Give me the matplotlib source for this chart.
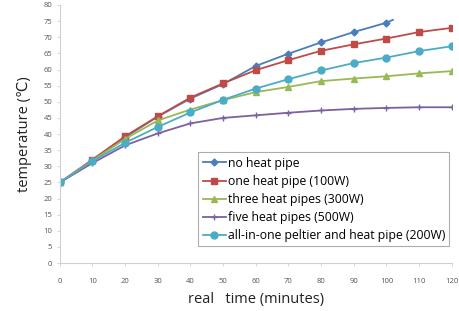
import numpy as np
import matplotlib
matplotlib.use('Agg')
import matplotlib.pyplot as plt

plt.rcParams['font.family'] = ['Open Sans', 'DejaVu Sans']

minutes = [0, 10, 20, 30, 40, 50, 60, 70, 80, 90, 100, 110, 120]
# no heat pipe stops a bit after 100 min
minutes_none = [0, 10, 20, 30, 40, 50, 60, 70, 80, 90, 100, 102]
no_pipe = [25, 31.6, 39.0, 45.4, 51.0, 55.5, 61.1, 64.9, 68.4, 71.6, 74.5, 75.4]
one_pipe = [25, 32.1, 39.3, 45.5, 51.3, 55.7, 59.8, 62.9, 65.8, 67.8, 69.6, 71.6, 72.9]
three_pipes = [25, 31.8, 38.5, 44.2, 47.6, 50.5, 53.0, 54.6, 56.4, 57.2, 57.9, 58.8, 59.5]
five_pipes = [25, 31.0, 36.5, 40.2, 43.3, 45.0, 45.8, 46.6, 47.3, 47.8, 48.1, 48.3, 48.3]
peltier = [25, 31.6, 37.3, 42.2, 46.7, 50.6, 54.1, 57.0, 59.7, 62.0, 63.7, 65.7, 67.2]

labels = ['no heat pipe', 'one heat pipe (100W)', 'three heat pipes (300W)',
          'five heat pipes (500W)', 'all-in-one peltier and heat pipe (200W)']
xticks = list(range(0, 121, 10))
yticks = list(range(0, 81, 5))

fig = plt.figure(figsize=(4.6, 3.11), dpi=100)
ax = fig.add_axes([0.130, 0.154, 0.852, 0.830])

ax.plot(minutes_none, no_pipe, color='#4a7ebb', marker='D', ms=3.5,
        lw=1.3, markevery=list(range(11)), label=labels[0])
ax.plot(minutes, one_pipe, color='#be4b48', marker='s', ms=5, lw=1.3,
        label=labels[1])
ax.plot(minutes, three_pipes, color='#98b954', marker='^', ms=5, lw=1.3,
        label=labels[2])
ax.plot(minutes, five_pipes, color='#7d60a0', marker='+', ms=5, mew=1,
        lw=1.3, label=labels[3])
ax.plot(minutes, peltier, color='#4bacc6', marker='o', ms=5, lw=1.3,
        label=labels[4])

ax.set_xlim(0, 120)
ax.set_ylim(0, 80)
ax.set_xticks(xticks)
ax.set_yticks(yticks)
ax.tick_params(labelsize=5.5, colors='#555555', length=2.5, width=0.6,
               pad=8)
ax.tick_params(axis='y', pad=3)
for s in ['top', 'right']:
    ax.spines[s].set_visible(False)
for s in ['left', 'bottom']:
    ax.spines[s].set_color('#d0d0d0')
    ax.spines[s].set_linewidth(0.8)
ax.tick_params(color='#d0d0d0')

ax.set_xlabel('real   time (minutes)', fontsize=10.5, color='#222222',
              labelpad=5)
ax.set_ylabel('temperature (\u2103)', fontsize=10.5, color='#222222',
              labelpad=8)

leg = ax.legend(loc='lower right', bbox_to_anchor=(1.0, 0.055),
                fontsize=8.8, frameon=True, fancybox=False,
                edgecolor='#999999', handlelength=1.9, labelspacing=0.42,
                borderpad=0.35, handletextpad=0.15, borderaxespad=0.2)
leg.get_frame().set_linewidth(0.8)

fig.savefig('out.png', dpi=100)
